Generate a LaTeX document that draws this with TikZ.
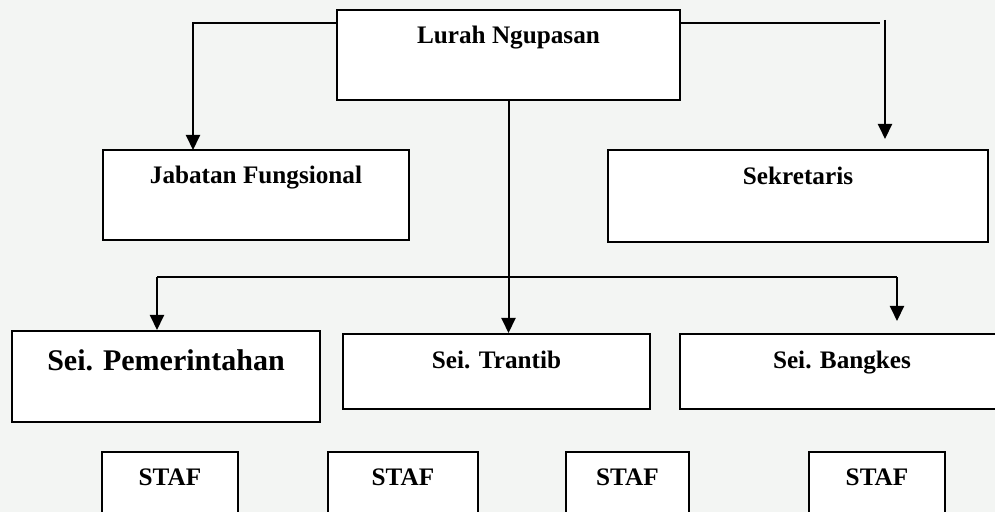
\documentclass[tikz,border=0pt]{standalone}
\usepackage{fontspec}
\setmainfont{Liberation Serif}
\usetikzlibrary{arrows.meta}
\definecolor{paper}{RGB}{243,245,243}

\begin{document}
\begin{tikzpicture}[x=0.5pt,y=-0.5pt,line width=1pt,
  >={Triangle[length=7.5pt,width=7pt]},
  unit/.style n args={3}{draw,fill=white,inner sep=0pt,
    font=\fontsize{12.6}{15}\selectfont\bfseries,
    minimum width=#1,text height=#2,text depth=#3}]
\useasboundingbox[fill=paper] (0,0) rectangle (995,512);
\node[unit={171.5pt}{17pt}{28pt}] (lurah) at (508.5,55) {Lurah Ngupasan};
\node[unit={153pt}{17pt}{28pt}] (jab) at (256,195) {Jabatan Fungsional};
\node[unit={190pt}{17.5pt}{28.5pt}] (sek) at (798,196) {Sekretaris};
\node[unit={154pt}{20pt}{25.5pt},font=\fontsize{15}{18}\selectfont\bfseries]
  (pem) at (166,376.5) {Sei. Pemerintahan};
\node[unit={153.5pt}{17.5pt}{20pt}] (tra) at (496.5,371.5) {Sei. Trantib};
\node[unit={162pt}{17.5pt}{20pt}] (ban) at (842,371.5) {Sei. Bangkes};
\foreach \x/\w [count=\i] in {170/68,403/75,627.5/61.5,877/68}
  \node[unit={\w pt}{17pt}{20.5pt}] (staf\i) at (\x,489.5) {STAF};
% lines from the lurah
\coordinate (jabin) at (193,150);
\coordinate (sekbend) at (880,23);
\coordinate (sektop) at (885,20);
\draw[->] ([yshift=-7pt]lurah.north west) -| (jabin);
\draw (lurah.east |- sekbend) -- (sekbend);
\draw[->,shorten >=5pt] (sektop) -- (sektop |- sek.north);
\draw[->] (lurah.south) -- (lurah.south |- tra.north);
% the seksi
\coordinate (busL) at (157,277);
\coordinate (busR) at (897,277);
\draw (busL) -- (busR);
\draw[->] (busL) -- (busL |- pem.north);
\draw[->,shorten >=6pt] (busR) -- (busR |- ban.north);
\end{tikzpicture}
\end{document}
